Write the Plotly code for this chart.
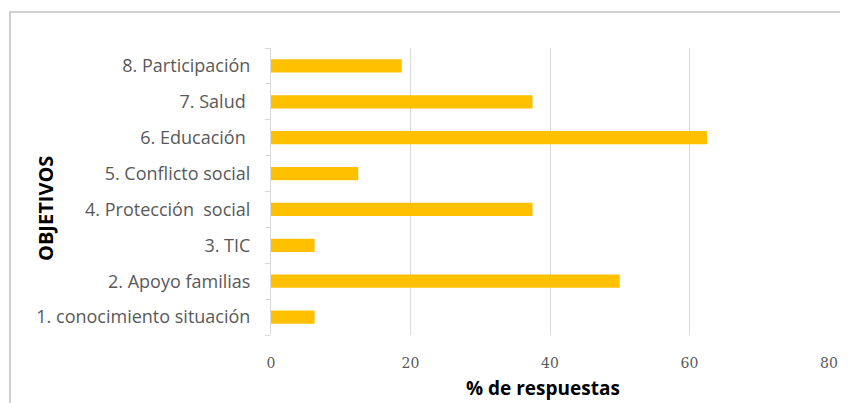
import plotly.graph_objects as go

categories = ["1. conocimiento situación", "2. Apoyo familias", "3. TIC",
              "4. Protección\u00a0 social", "5. Conflicto social",
              "6. Educación\u00a0", "7. Salud\u00a0", "8. Participación"]
values = [6.25, 50, 6.25, 37.5, 12.5, 62.5, 37.5, 18.75]
x_ticks = [0, 20, 40, 60, 80]

OFF = 8  # default page margin of the html body
W, H = 832, 395
# target plot area in page pixels: x 271..829, y 48..335
L = 271 - OFF
T = 48 - OFF
R = W - (829 - OFF)
B = H - (335 - OFF)
pw, ph = W - L - R, H - T - B


def px(xp):
    return (xp - OFF - L) / pw


def py(yp):
    return 1 - (yp - OFF - T) / ph


fig = go.Figure(go.Bar(
    y=categories, x=values, orientation="h",
    marker=dict(color="#FFC000", line=dict(width=0)),
    width=0.37,
))

fig.update_layout(
    width=W, height=H,
    margin=dict(l=L, r=R, t=T, b=B, autoexpand=False),
    paper_bgcolor="white", plot_bgcolor="white",
    showlegend=False,
    font=dict(family="Open Sans, Lato, sans-serif", color="#595959", size=16),
    xaxis=dict(range=[0, 80], tickvals=x_ticks, showgrid=True, automargin=False,
               gridcolor="#D9D9D9", gridwidth=1, zeroline=False,
               showline=False, ticks="",
               tickfont=dict(family="DejaVu Serif, Liberation Serif, serif", size=14, color="#595959"),
               ticklabelstandoff=18),
    yaxis=dict(type="category", categoryorder="array", categoryarray=categories,
               automargin=False,
               showline=True, linecolor="#D9D9D9", linewidth=1,
               ticks="outside", ticklen=5, tickcolor="#D9D9D9",
               tickson="boundaries", showgrid=False,
               ticklabelstandoff=16,
               tickfont=dict(size=18, color="#595959")),
    annotations=[
        dict(text="<b>OBJETIVOS</b>", xref="paper", yref="paper",
             x=px(45), y=py(209), showarrow=False,
             textangle=-90, font=dict(size=20, color="black",
                                       family="Open Sans, Lato, sans-serif"),
             xanchor="center", yanchor="middle"),
        dict(text="<b>% de respuestas</b>", xref="paper", yref="paper",
             x=px(543), y=py(H + OFF), showarrow=False,
             font=dict(size=19, color="black", family="Open Sans, Lato, sans-serif"),
             xanchor="center", yanchor="bottom"),
    ],
    shapes=[dict(type="rect", xref="paper", yref="paper",
                 x0=px(OFF + 2), x1=px(W + OFF + 20),
                 y0=py(H + OFF + 20), y1=py(12),
                 line=dict(color="#D0D0D0", width=2), fillcolor="rgba(0,0,0,0)",
                 layer="below")],
)

fig.write_html("out.html")
